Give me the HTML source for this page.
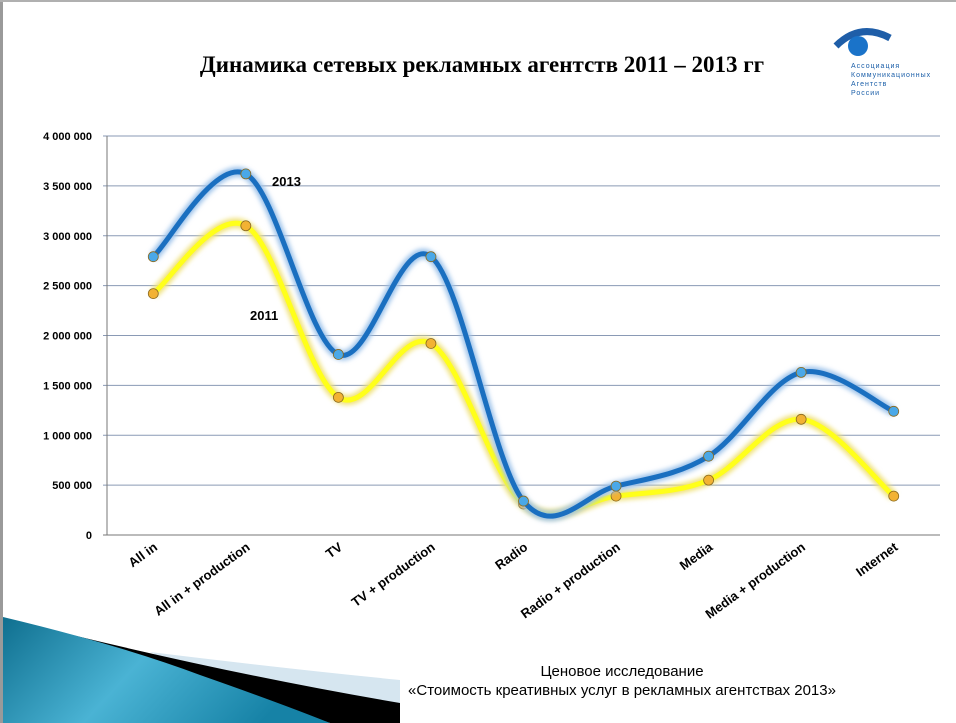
<!DOCTYPE html>
<html><head><meta charset="utf-8"><style>
body{margin:0;background:#fff;}
svg{display:block;font-family:"Liberation Sans",sans-serif;}
</style></head><body>
<svg width="956" height="723" viewBox="0 0 956 723">
<defs>
<linearGradient id="bl" x1="0" y1="0" x2="1" y2="0.3"><stop offset="0" stop-color="#0f6f8f"/><stop offset="0.5" stop-color="#4ab3d4"/><stop offset="1" stop-color="#1682a6"/></linearGradient>
<filter id="glow" x="-10%" y="-10%" width="120%" height="120%"><feGaussianBlur stdDeviation="2.5"/></filter>
</defs>
<rect x="0" y="0" width="956" height="723" fill="#fff"/>
<rect x="0" y="0" width="3" height="723" fill="#9a9a9a"/>
<rect x="0" y="0" width="956" height="2" fill="#b0b0b0"/>
<g>
<path d="M150,652 Q280,668 400,680 L400,723 L300,723Z" fill="#d6e6f0"/>
<path d="M60,632 Q240,676 400,703 L400,723 L330,723Z" fill="#000"/>
<path d="M3,617 Q120,645 200,675 Q280,703 330,723 L3,723Z" fill="url(#bl)"/>
</g>
<text x="482" y="72" text-anchor="middle" font-family="Liberation Serif,serif" font-weight="bold" font-size="23">Динамика сетевых рекламных агентств 2011 – 2013 гг</text>
<g>
<path d="M836,46 Q860,22 890,38" stroke="#1f5ea8" stroke-width="7" fill="none"/>
<circle cx="858" cy="46" r="10" fill="#1a73c9"/>
<text x="851" y="68" font-size="7" fill="#1a5ea8" letter-spacing="1">Ассоциация</text>
<text x="851" y="77" font-size="7" fill="#1a5ea8" letter-spacing="1">Коммуникационных</text>
<text x="851" y="86" font-size="7" fill="#1a5ea8" letter-spacing="1">Агентств</text>
<text x="851" y="95" font-size="7" fill="#1a5ea8" letter-spacing="1">России</text>
</g>
<g id="grid"></g><g id="yticks"></g><g id="xlabels"></g><g id="series"></g>
<text x="272" y="186" font-weight="bold" font-size="13">2013</text>
<text x="250" y="320" font-weight="bold" font-size="13">2011</text>
<text x="622" y="676" text-anchor="middle" font-size="15">Ценовое исследование</text>
<text x="622" y="695" text-anchor="middle" font-size="15">«Стоимость креативных услуг в рекламных агентствах 2013»</text>
</svg>
<script>
const categories=["All in","All in + production","TV","TV + production","Radio","Radio + production","Media","Media + production","Internet"];
const values2013=[2790000,3620000,1810000,2790000,340000,490000,790000,1630000,1240000];
const values2011=[2420000,3100000,1380000,1920000,310000,390000,550000,1160000,390000];
const yTicks=[0,500000,1000000,1500000,2000000,2500000,3000000,3500000,4000000];
const NS="http://www.w3.org/2000/svg";
const L=107,R=940,T=136,B=535,yMax=4000000;
const bw=(R-L)/categories.length;
const xs=i=>L+bw*(i+0.5);
const ys=v=>B-(v/yMax)*(B-T);
function mk(tag,attrs,parent){const e=document.createElementNS(NS,tag);for(const k in attrs)e.setAttribute(k,attrs[k]);parent.appendChild(e);return e;}
const grid=document.getElementById('grid'),yt=document.getElementById('yticks'),xl=document.getElementById('xlabels'),ser=document.getElementById('series');
const fmt=v=>v===0?"0":v.toString().replace(/\B(?=(\d{3})+(?!\d))/g," ");
yTicks.forEach(v=>{
 const l=mk('line',{x1:L-4,x2:R,y1:ys(v),y2:ys(v),stroke:v===0?'#777':'#8a9ab5','stroke-width':1},grid);
 
 
 const t=mk('text',{x:92,y:ys(v)+4,'text-anchor':'end','font-size':11,'font-weight':'bold'},yt);
 t.textContent=fmt(v);
 
 
});
const ax=mk('line',{x1:L,x2:L,y1:T,y2:B,stroke:'#777'},grid);


categories.forEach((c,i)=>{
 const x=xs(i)+5,y=B+14;
 const t=mk('text',{x:x,y:y,'text-anchor':'end','font-size':13,'font-weight':'bold',transform:`rotate(-36 ${x} ${y})`},xl);
 t.textContent=c;
 
 
});
function pathD(vals){
 const p=vals.map((v,i)=>[xs(i),ys(v)]);
 let d=`M${p[0][0]},${p[0][1]}`;
 for(let i=0;i<p.length-1;i++){
  const p0=p[i-1]||p[i],p1=p[i],p2=p[i+1],p3=p[i+2]||p2,k=6;
  d+=` C${p1[0]+(p2[0]-p0[0])/k},${p1[1]+(p2[1]-p0[1])/k} ${p2[0]-(p3[0]-p1[0])/k},${p2[1]-(p3[1]-p1[1])/k} ${p2[0]},${p2[1]}`;
 }
 return d;
}
function drawSeries(vals,color,glow,dot,name){
 const g=mk('g',{},ser);
 
 
 mk('path',{d:pathD(vals),stroke:glow,'stroke-width':10,fill:'none',filter:'url(#glow)'},g);
 const ln=mk('path',{d:pathD(vals),stroke:color,'stroke-width':5,fill:'none'},g);
 
 
 vals.forEach((v,i)=>{
  const c=mk('circle',{cx:xs(i),cy:ys(v),r:5,fill:dot,stroke:'#8a6a20','stroke-width':0.8},g);
  
  
 });
}
drawSeries(values2011,'#ffff1a','#f0e27a','#f2b233','series-2011');
drawSeries(values2013,'#1a6fc0','#9ec3ea','#4aa8e8','series-2013');
</script>
</body></html>
